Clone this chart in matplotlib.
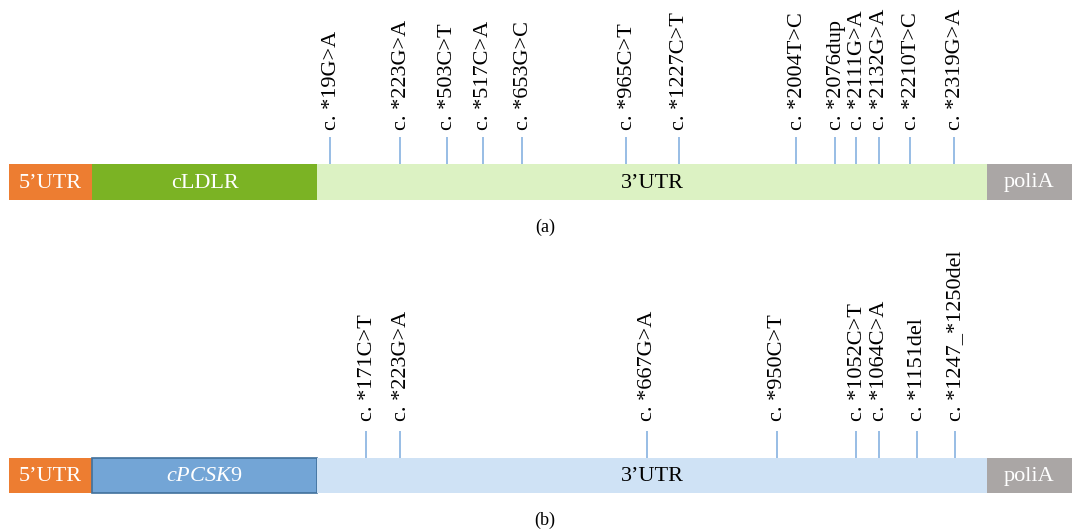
import matplotlib
matplotlib.use("Agg")
import matplotlib.pyplot as plt

plt.rcParams['font.family'] = ['Liberation Serif', 'DejaVu Serif']
plt.rcParams['mathtext.fontset'] = 'custom'
plt.rcParams['mathtext.rm'] = 'Liberation Serif'
plt.rcParams['mathtext.it'] = 'Liberation Serif:italic'

# schematic positions (drawing units along the transcript)
seg_edges = [8.5, 92, 317, 987, 1072]
seg_names_a = ["5\u2019UTR", "cLDLR", "3\u2019UTR", "poliA"]
seg_names_b = ["5\u2019UTR", r"$\mathit{cPCSK}\mathrm{9}$", "3\u2019UTR", "poliA"]

variants_a = ["c. *19G>A", "c. *223G>A", "c. *503C>T", "c. *517C>A", "c. *653G>C",
              "c. *965C>T", "c. *1227C>T", "c. *2004T>C", "c. *2076dup", "c. *2111G>A",
              "c. *2132G>A", "c. *2210T>C", "c. *2319G>A"]
pos_a = [330, 400, 447, 483, 522, 626, 679, 796, 835, 856, 879, 910, 954]

variants_b = ["c. *171C>T", "c. *223G>A", "c. *667G>A", "c. *950C>T", "c. *1052C>T",
              "c. *1064C>A", "c. *1151del", "c. *1247_*1250del"]
pos_b = [366, 400, 647, 777, 856, 879, 917, 955]

colors_a = ["#ED7D31", "#7BB324", "#DCF2C3", "#AAA6A5"]
colors_b = ["#ED7D31", "#73A5D6", "#CFE2F5", "#AAA6A5"]
text_colors = ["white", "white", "black", "white"]
tick_color = "#86B2E0"

fig = plt.figure(figsize=(10.72, 5.31), dpi=100)
ax = fig.add_axes([0, 0, 1, 1])
ax.set_xlim(0, 1072)
ax.set_ylim(531, 0)
ax.axis('off')


def draw_panel(yc, h, names, colors, variants, pos, tag, boxed, gap):
    lefts = seg_edges[:-1]
    widths = [seg_edges[i + 1] - seg_edges[i] for i in range(len(lefts))]
    for i in range(len(lefts)):
        ec = "#41719C" if (boxed and i == 1) else "none"
        ax.barh(yc, widths[i], left=lefts[i], height=h, color=colors[i],
                edgecolor=ec, linewidth=1.2)
        ax.text(lefts[i] + widths[i] / 2, yc + 1, names[i], ha='center', va='center',
                fontsize=16, color=text_colors[i])
    top = yc - h / 2
    ax.vlines(pos, top - 27, top, color=tick_color, linewidth=1.2)
    for p, v in zip(pos, variants):
        ax.text(p + 1, top - gap, v, rotation=90, ha='center', va='bottom', fontsize=16)
    ax.text(545, yc + h / 2 + 27, tag, ha='center', va='center', fontsize=13)


draw_panel(182, 36, seg_names_a, colors_a, variants_a, pos_a, "(a)", False, 34)
draw_panel(475.5, 35, seg_names_b, colors_b, variants_b, pos_b, "(b)", True, 37)

fig.savefig("out.png", dpi=100)
